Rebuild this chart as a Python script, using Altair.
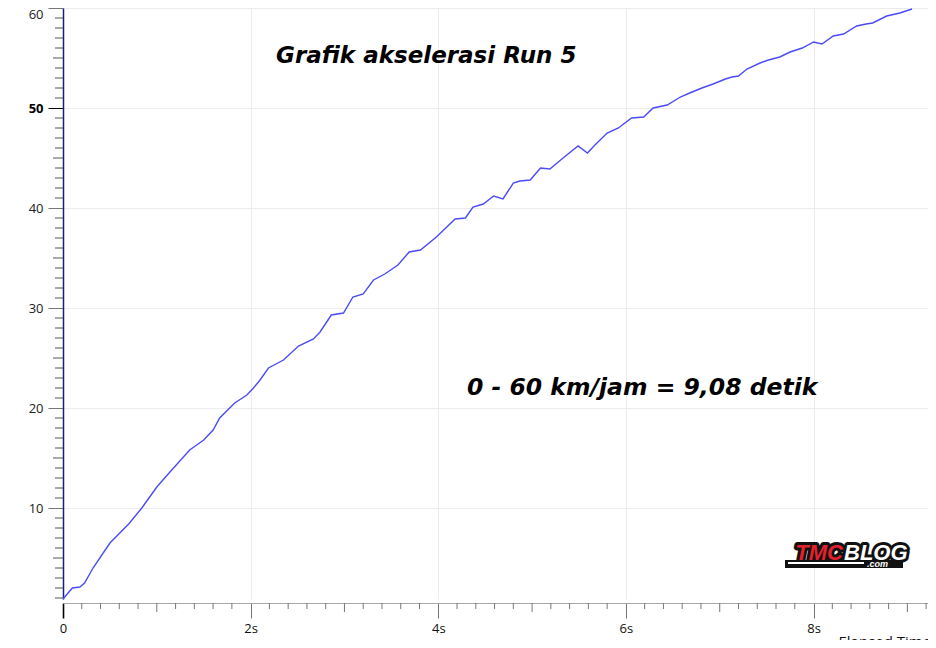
import pandas as pd
import altair as alt

# ==============================
#   DATA
# ==============================
waktu = [0, 0.10, 0.18, 0.23, 0.32, 0.50, 0.70, 0.84, 1.00, 1.14, 1.35, 1.50,
         1.60, 1.67, 1.83, 1.96, 2.03, 2.10, 2.19, 2.35, 2.51, 2.67, 2.74, 2.86,
         2.99, 3.09, 3.20, 3.31, 3.43, 3.57, 3.69, 3.81, 3.98, 4.18, 4.29, 4.37,
         4.48, 4.59, 4.69, 4.80, 4.87, 4.98, 5.09, 5.19, 5.33, 5.49, 5.59, 5.67,
         5.80, 5.92, 6.06, 6.19, 6.29, 6.44, 6.58, 6.68, 6.81, 6.93, 7.06, 7.13,
         7.20, 7.29, 7.43, 7.52, 7.64, 7.75, 7.88, 8.00, 8.09, 8.21, 8.32, 8.46,
         8.56, 8.63, 8.78, 8.92, 9.05]
kecepatan = [0.9, 2.0, 2.1, 2.5, 4.0, 6.5, 8.4, 10.0, 12.1, 13.6, 15.8, 16.8,
             17.8, 19.0, 20.5, 21.3, 22.0, 22.8, 24.0, 24.8, 26.2, 26.9, 27.6, 29.3,
             29.5, 31.1, 31.4, 32.8, 33.4, 34.3, 35.6, 35.8, 37.1, 38.9, 39.0, 40.1,
             40.4, 41.2, 40.9, 42.5, 42.7, 42.8, 44.0, 43.9, 45.0, 46.2, 45.5, 46.3,
             47.5, 48.0, 49.0, 49.1, 50.0, 50.3, 51.1, 51.5, 52.0, 52.4, 52.9, 53.1,
             53.2, 53.9, 54.5, 54.8, 55.1, 55.6, 56.0, 56.6, 56.4, 57.2, 57.4, 58.2,
             58.4, 58.5, 59.2, 59.5, 59.9]

x_ticks = [0, 2, 4, 6, 8]
y_ticks = [10, 20, 30, 40, 50, 60]

# tick kecil sumbu
y_minor = [v for v in range(1, 60) if v % 5 != 0]
y_mid = [5, 15, 25, 35, 45, 55]
x_minor = [round(0.2 * i, 1) for i in range(1, 47) if i % 5 != 0]
x_mid = [1, 3, 5, 7, 9]

judul = "Grafik akselerasi Run 5"
catatan = "0 - 60 km/jam = 9,08 detik"

W, H = 865, 591

df = pd.DataFrame({"t": waktu, "v": kecepatan})

sx = alt.Scale(domain=[0, 9.22], nice=False, zero=False)
sy = alt.Scale(domain=[0.9, 60], nice=False, zero=False)

garis = alt.Chart(df).mark_line(color="#4b4bfa", strokeWidth=1.4).encode(
    x=alt.X("t:Q", scale=sx, axis=alt.Axis(
        values=x_ticks, labelExpr="datum.value == 0 ? '0' : datum.value + 's'",
        offset=4, tickSize=15,
        tickColor={"condition": {"test": "datum.value == 0", "value": "#000"}, "value": "#777"},
        tickWidth={"condition": {"test": "datum.value == 0", "value": 1.6}, "value": 1},
        domainColor="#a8a8a8", labelFont="Open Sans", labelFontSize=13, labelColor="#111",
        labelPadding=4, labelFlush=False, gridColor="#ececec",
        title="Elapsed Time", titleX=775, titleY=31, titleAlign="left", titleBaseline="top",
        titleFont="Open Sans", titleFontSize=15, titleFontWeight="normal", titleColor="#111")),
    y=alt.Y("v:Q", scale=sy, axis=alt.Axis(
        values=y_ticks, tickSize=15,
        tickColor={"condition": {"test": "datum.value == 50", "value": "#000"}, "value": "#777"},
        labelFont="Open Sans", labelFontSize=13, labelPadding=5,
        labelFlush=True, labelFlushOffset=0,
        labelColor={"condition": {"test": "datum.value == 50", "value": "#000"}, "value": "#222"},
        labelFontWeight={"condition": {"test": "datum.value == 50", "value": "bold"}, "value": "normal"},
        domainColor="#1c1c80", domainWidth=1.5, gridColor="#ececec", title=None)),
)

# tick kecil digambar sebagai rule (axis tetap dari layer garis)
tick_y = alt.Chart(pd.DataFrame({"v": y_minor})).mark_rule(color="#555").encode(
    y=alt.Y("v:Q", scale=sy), x=alt.value(-8), x2=alt.value(0))
tick_y5 = alt.Chart(pd.DataFrame({"v": y_mid})).mark_rule(color="#555").encode(
    y=alt.Y("v:Q", scale=sy), x=alt.value(-10), x2=alt.value(0))
tick_x = alt.Chart(pd.DataFrame({"t": x_minor})).mark_rule(color="#777").encode(
    x=alt.X("t:Q", scale=sx), y=alt.value(H + 4), y2=alt.value(H + 10))
tick_x1 = alt.Chart(pd.DataFrame({"t": x_mid})).mark_rule(color="#777").encode(
    x=alt.X("t:Q", scale=sx), y=alt.value(H + 4), y2=alt.value(H + 13))

teks = pd.DataFrame({"judul": [judul], "catatan": [catatan]})
t_judul = alt.Chart(teks).mark_text(
    font="DejaVu Sans", fontSize=23, fontStyle="italic", fontWeight="bold",
    align="left", baseline="alphabetic", color="#000"
).encode(x=alt.value(213), y=alt.value(55), text="judul:N")
t_catatan = alt.Chart(teks).mark_text(
    font="DejaVu Sans", fontSize=23.5, fontStyle="italic", fontWeight="bold",
    align="left", baseline="alphabetic", color="#000"
).encode(x=alt.value(404), y=alt.value(387), text="catatan:N")

# logo TMCBLOG
logo = alt.Chart(pd.DataFrame({"a": ["TMC"], "b": ["BLOG"], "c": [".com"]}))
huruf = dict(font="Liberation Sans", fontSize=22, fontStyle="italic", fontWeight="bold",
             baseline="alphabetic")
logo_bar = logo.mark_rule(color="#111", strokeWidth=8).encode(
    x=alt.value(722), x2=alt.value(840), y=alt.value(556), y2=alt.value(556))
logo_a_bg = logo.mark_text(align="right", color="#111", stroke="#111", strokeWidth=6,
                           strokeJoin="round", **huruf).encode(
    x=alt.value(780), y=alt.value(552), text="a:N")
logo_b_bg = logo.mark_text(align="left", color="#111", stroke="#111", strokeWidth=6,
                           strokeJoin="round", **huruf).encode(
    x=alt.value(781), y=alt.value(552), text="b:N")
logo_a = logo.mark_text(align="right", color="#e3202b", **huruf).encode(
    x=alt.value(780), y=alt.value(552), text="a:N")
logo_b = logo.mark_text(align="left", color="#fff", **huruf).encode(
    x=alt.value(781), y=alt.value(552), text="b:N")
logo_line = logo.mark_rule(color="#fff", strokeWidth=2).encode(
    x=alt.value(725), x2=alt.value(801), y=alt.value(555), y2=alt.value(555))
logo_c = logo.mark_text(align="left", color="#fff", font="Liberation Sans", fontSize=9,
                        fontStyle="italic", fontWeight="bold", baseline="alphabetic").encode(
    x=alt.value(804), y=alt.value(559), text="c:N")

chart = alt.layer(
    garis, tick_y, tick_y5, tick_x, tick_x1, t_judul, t_catatan,
    logo_bar, logo_a_bg, logo_b_bg, logo_a, logo_b, logo_line, logo_c
).properties(
    width=W, height=H,
    padding={"left": 55, "top": 0, "right": 0, "bottom": 41},
    autosize=alt.AutoSizeParams(type="none"),
    background="#ffffff",
).configure_view(stroke=None)

chart.save("out.html", embed_options={"renderer": "svg", "actions": False})
